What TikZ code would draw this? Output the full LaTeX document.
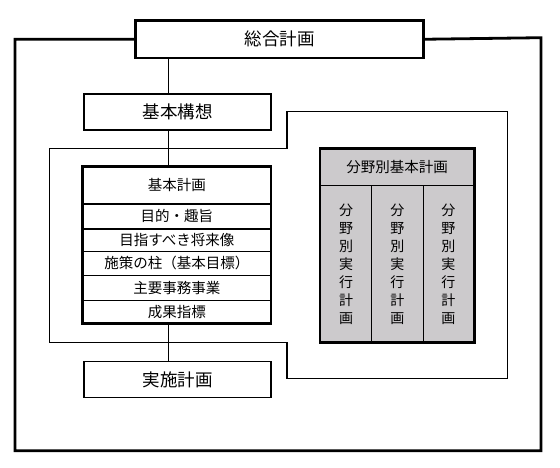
\documentclass[tikz,border=0pt]{standalone}
\usepackage{fontspec}
\setmainfont{Noto Sans CJK JP}
\usetikzlibrary{fit,backgrounds}
\definecolor{panelgray}{RGB}{204,202,204}
\begin{document}
\begin{tikzpicture}[x=1pt,y=-1pt,
  bigtext/.style={font=\fontsize{17.5}{20}\selectfont},
  rowtext/.style={font=\fontsize{14.5}{17}\selectfont},
  box/.style={draw, fill=white, inner sep=0pt, align=center, anchor=north west},
  cell/.style={fill=white, inner sep=0pt, align=center, anchor=north west, rowtext},
  graycell/.style={draw, line width=1pt, fill=panelgray, inner sep=0pt, align=center, anchor=north west},
  frameline/.style={line width=1.2pt},
  spine/.style={line width=1pt},
  thickframe/.style={line width=2.8pt},
  sep/.style={line width=1pt},
  septhick/.style={line width=1.8pt}
]
\useasboundingbox (0,0) rectangle (560,468);

% main boxes
\node[box, bigtext, line width=2.8pt, minimum width=288.3pt, minimum height=37.7pt] (sougou) at (134,19) {総合計画};
\node[box, bigtext, line width=1.4pt, minimum width=187pt, minimum height=36pt] (kousou) at (83.3,93.3) {基本構想};
\node[box, bigtext, line width=1.4pt, minimum width=187pt, minimum height=35.6pt] (jisshi) at (83.3,361) {実施計画};

% basic plan table
\node[cell, minimum width=188pt, minimum height=36.6pt] (kh) at (82.7,166.7) {基本計画};
\node[cell, minimum width=188pt, minimum height=25pt] (r1) at (82.7,203.3) {目的・趣旨};
\node[cell, minimum width=188pt, minimum height=22.7pt] (r2) at (82.7,228.3) {目指すべき将来像};
\node[cell, minimum width=188pt, minimum height=24.3pt] (r3) at (82.7,251) {施策の柱（基本目標）};
\node[cell, minimum width=188pt, minimum height=24.4pt] (r4) at (82.7,275.3) {主要事務事業};
\node[cell, minimum width=188pt, minimum height=23.3pt] (r5) at (82.7,299.7) {成果指標};
\draw[septhick] (kh.south west) -- (kh.south east);
\draw[septhick] (r1.south west) -- (r1.south east);
\draw[sep] (r2.south west) -- (r2.south east);
\draw[sep] (r3.south west) -- (r3.south east);
\draw[sep] (r4.south west) -- (r4.south east);
\node[draw, line width=2.6pt, inner sep=0pt, fit=(kh)(r5)] (keikaku) {};

% field plan (gray)
\node[graycell, rowtext, minimum width=153.3pt, minimum height=37pt] (bh) at (320,148.3) {分野別基本計画};
\node[graycell, font=\fontsize{14}{18}\selectfont, minimum width=51pt, minimum height=156.4pt] (c1) at (320,185.3) {分\\野\\別\\実\\行\\計\\画};
\node[graycell, font=\fontsize{14}{18}\selectfont, minimum width=51.5pt, minimum height=156.4pt] (c2) at (371,185.3) {分\\野\\別\\実\\行\\計\\画};
\node[graycell, font=\fontsize{14}{18}\selectfont, minimum width=50.8pt, minimum height=156.4pt] (c3) at (422.5,185.3) {分\\野\\別\\実\\行\\計\\画};
\node[draw, line width=2.8pt, inner sep=0pt, fit=(bh)(c1)(c3)] (bunya) {};

% connectors and frames behind
\begin{scope}[on background layer]
\coordinate (sp) at (168.7,0);
\draw[spine] (sougou.south -| sp) -- (kousou.north -| sp);
\draw[spine] (kousou.south -| sp) -- (keikaku.north -| sp);
\draw[spine] (keikaku.south -| sp) -- (jisshi.north -| sp);
\coordinate (o1) at (15,450.7);
\coordinate (o2) at (541,37.7);
\draw[thickframe, line join=miter] (sougou.west) -| (o1) -| (o2) -- (sougou.east);
\coordinate (f1) at (49.3,148.3);
\coordinate (f2) at (287,111.7);
\coordinate (f3) at (507.3,378.3);
\coordinate (f4) at (49.3,342.7);
\draw[frameline] (f1) -- (f1 -| f2) -- (f2) -- (f2 -| f3) -- (f3) -- (f3 -| f2) -- (f4 -| f2) -- (f4) -- cycle;
\end{scope}
\end{tikzpicture}
\end{document}
